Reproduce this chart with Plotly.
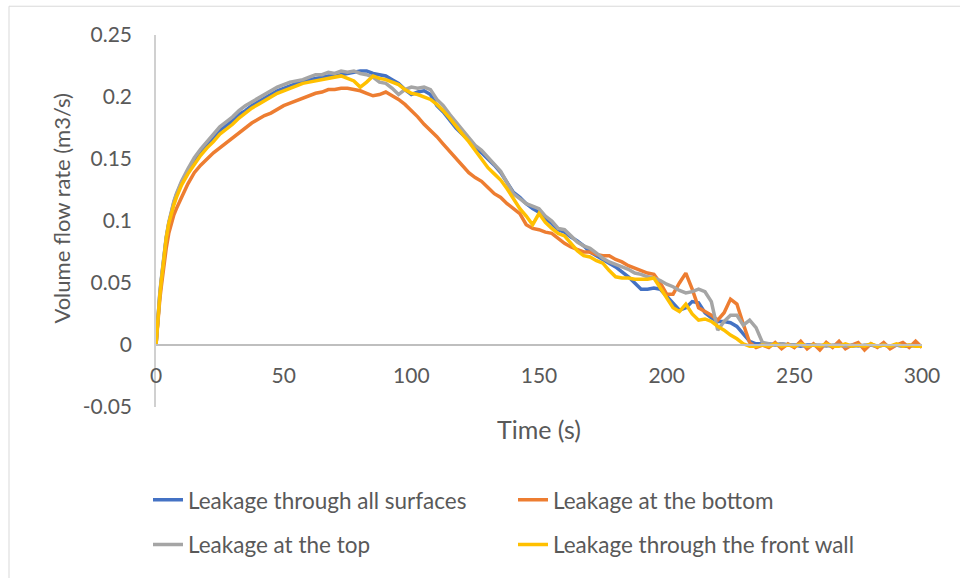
import plotly.graph_objects as go

time_s = [0, 0.5, 1, 1.5, 2, 3, 4, 5, 6, 7, 8, 9,
          10, 12.5, 15, 17.5, 20, 22.5, 25, 27.5, 30, 32.5, 35, 37.5, 40, 42.5, 45, 47.5,
          50, 52.5, 55, 57.5, 60, 62.5, 65, 67.5, 70, 72.5, 75, 77.5, 80, 82.5, 85, 87.5,
          90, 92.5, 95, 97.5, 100, 102.5, 105, 107.5, 110, 112.5, 115, 117.5, 120, 122.5, 125, 127.5,
          130, 132.5, 135, 137.5, 140, 142.5, 145, 147.5, 150, 152.5, 155, 157.5, 160, 162.5, 165, 167.5,
          170, 172.5, 175, 177.5, 180, 182.5, 185, 187.5, 190, 192.5, 195, 197.5, 200, 202.5, 205, 207.5,
          210, 212.5, 215, 217.5, 220, 222.5, 225, 227.5, 230, 232.5, 235, 237.5, 240, 242.5, 245, 247.5,
          250, 252.5, 255, 257.5, 260, 262.5, 265, 267.5, 270, 272.5, 275, 277.5, 280, 282.5, 285, 287.5,
          290, 292.5, 295, 297.5, 300]

all_surfaces = [0, 0.016, 0.030, 0.041, 0.051, 0.070, 0.086, 0.098, 0.107, 0.115, 0.121, 0.126,
                0.131, 0.140, 0.149, 0.156, 0.162, 0.167, 0.173, 0.177, 0.181, 0.186, 0.189, 0.193, 0.196, 0.199, 0.202, 0.205,
                0.207, 0.209, 0.211, 0.212, 0.214, 0.215, 0.216, 0.217, 0.217, 0.218, 0.219, 0.220, 0.221, 0.221, 0.219, 0.218,
                0.217, 0.214, 0.211, 0.206, 0.202, 0.204, 0.205, 0.202, 0.193, 0.188, 0.181, 0.175, 0.170, 0.165, 0.159, 0.155,
                0.150, 0.145, 0.139, 0.131, 0.123, 0.119, 0.114, 0.110, 0.107, 0.102, 0.098, 0.093, 0.091, 0.087, 0.084, 0.080,
                0.075, 0.072, 0.069, 0.066, 0.063, 0.059, 0.055, 0.050, 0.045, 0.045, 0.046, 0.045, 0.039, 0.034, 0.028, 0.030,
                0.035, 0.034, 0.026, 0.022, 0.019, 0.019, 0.018, 0.015, 0.009, 0.003, 0.001, 0.001, 0.001, 0.000, 0.001, 0.000,
                0.000, -0.001, 0.000, 0.000, -0.001, 0.000, -0.001, 0.000, -0.001, -0.001, 0.000, -0.001, 0.000, -0.001, 0.000, -0.001,
                0.000, -0.001, -0.001, 0.000, -0.001]

bottom = [0, 0.014, 0.027, 0.037, 0.046, 0.064, 0.078, 0.090, 0.099, 0.105, 0.110, 0.115,
          0.119, 0.130, 0.139, 0.145, 0.150, 0.155, 0.159, 0.163, 0.167, 0.171, 0.175, 0.179, 0.182, 0.185, 0.187, 0.190,
          0.193, 0.195, 0.197, 0.199, 0.201, 0.203, 0.204, 0.206, 0.206, 0.207, 0.207, 0.206, 0.205, 0.203, 0.201, 0.202,
          0.204, 0.201, 0.198, 0.194, 0.189, 0.184, 0.178, 0.173, 0.168, 0.162, 0.156, 0.150, 0.145, 0.139, 0.135, 0.132,
          0.127, 0.122, 0.119, 0.114, 0.110, 0.106, 0.097, 0.094, 0.093, 0.091, 0.090, 0.086, 0.082, 0.079, 0.077, 0.075,
          0.075, 0.073, 0.072, 0.072, 0.069, 0.067, 0.064, 0.062, 0.060, 0.058, 0.057, 0.050, 0.041, 0.041, 0.050, 0.058,
          0.045, 0.030, 0.027, 0.024, 0.020, 0.026, 0.037, 0.033, 0.017, 0.002, -0.002, 0.000, -0.002, 0.002, -0.003, 0.001,
          -0.002, 0.003, -0.003, 0.001, -0.004, 0.002, -0.002, 0.003, -0.003, 0.000, 0.002, -0.004, 0.001, -0.002, 0.002, -0.003,
          0.000, 0.002, -0.002, 0.003, -0.002]

top = [0, 0.016, 0.031, 0.042, 0.052, 0.071, 0.087, 0.099, 0.108, 0.116, 0.122, 0.127,
       0.132, 0.142, 0.151, 0.158, 0.164, 0.170, 0.176, 0.180, 0.184, 0.189, 0.193, 0.196, 0.199, 0.202, 0.205, 0.208,
       0.210, 0.212, 0.213, 0.214, 0.216, 0.218, 0.218, 0.220, 0.219, 0.221, 0.220, 0.221, 0.219, 0.218, 0.216, 0.212,
       0.211, 0.207, 0.202, 0.206, 0.208, 0.207, 0.208, 0.206, 0.198, 0.193, 0.186, 0.180, 0.173, 0.167, 0.161, 0.157,
       0.151, 0.146, 0.140, 0.131, 0.122, 0.118, 0.114, 0.112, 0.110, 0.104, 0.100, 0.094, 0.093, 0.088, 0.083, 0.080,
       0.078, 0.074, 0.070, 0.067, 0.065, 0.063, 0.061, 0.058, 0.057, 0.055, 0.054, 0.052, 0.049, 0.047, 0.044, 0.042,
       0.043, 0.045, 0.043, 0.035, 0.012, 0.019, 0.024, 0.024, 0.016, 0.020, 0.014, 0.002, 0.001, 0.000, 0.001, 0.000,
       0.000, 0.000, -0.001, 0.000, 0.000, -0.001, 0.000, 0.000, -0.001, 0.000, -0.001, 0.000, 0.000, -0.001, 0.000, -0.001,
       0.000, -0.001, 0.000, -0.001, -0.001]

front_wall = [0, 0.016, 0.030, 0.040, 0.050, 0.071, 0.086, 0.098, 0.106, 0.113, 0.119, 0.124,
              0.129, 0.138, 0.146, 0.153, 0.159, 0.164, 0.170, 0.174, 0.178, 0.183, 0.187, 0.191, 0.194, 0.197, 0.200, 0.203,
              0.205, 0.207, 0.209, 0.211, 0.212, 0.213, 0.214, 0.215, 0.216, 0.217, 0.215, 0.213, 0.208, 0.212, 0.217, 0.215,
              0.214, 0.212, 0.210, 0.206, 0.203, 0.202, 0.200, 0.198, 0.194, 0.189, 0.183, 0.176, 0.170, 0.164, 0.157, 0.149,
              0.143, 0.138, 0.133, 0.126, 0.118, 0.110, 0.104, 0.097, 0.106, 0.099, 0.094, 0.090, 0.088, 0.082, 0.076, 0.072,
              0.071, 0.068, 0.066, 0.060, 0.055, 0.054, 0.054, 0.053, 0.053, 0.053, 0.054, 0.046, 0.038, 0.030, 0.027, 0.033,
              0.025, 0.020, 0.021, 0.019, 0.015, 0.012, 0.008, 0.005, 0.001, -0.001, -0.001, 0.000, -0.001, 0.001, -0.001, 0.000,
              -0.001, 0.001, -0.001, 0.000, -0.001, 0.001, -0.001, -0.001, 0.001, -0.001, 0.000, -0.001, 0.001, -0.001, 0.000, -0.001,
              0.001, -0.001, 0.000, -0.001, -0.001]

series_names = ["Leakage through all surfaces", "Leakage at the bottom",
                "Leakage at the top", "Leakage through the front wall"]
series_values = [all_surfaces, bottom, top, front_wall]
series_colors = ["#4472C4", "#ED7D31", "#A5A5A5", "#FFC000"]
series_legend = ["legend", "legend", "legend2", "legend2"]

x_tickvals = [0, 50, 100, 150, 200, 250, 300]
y_tickvals = [-0.05, 0, 0.05, 0.1, 0.15, 0.2, 0.25]
y_ticktext = ["-0.05", "0", "0.05", "0.1", "0.15", "0.2", "0.25"]

FONT = "Lato"
TXT = "#595959"

fig = go.Figure()
for name, vals, col, lg in zip(series_names, series_values, series_colors, series_legend):
    fig.add_trace(go.Scatter(x=time_s, y=vals, mode="lines", name=name,
                             line=dict(color=col, width=3.5), legend=lg))

L, R, T, B = 156, 38, 35, 168
PW, PH = 960 - L - R, 578 - T - B

def px_x(p):
    return (p - L) / PW

def px_y(p):
    return (578 - B - p) / PH

legend_common = dict(orientation="h", xanchor="left", yanchor="middle",
                     entrywidth=320, entrywidthmode="pixels",
                     font=dict(size=22.5, color=TXT), bgcolor="rgba(0,0,0,0)")

fig.update_layout(
    width=960, height=578,
    margin=dict(l=L, r=R, t=T, b=B),
    paper_bgcolor="white", plot_bgcolor="white",
    font=dict(family=FONT, color=TXT, size=21),
    showlegend=True,
    legend=dict(x=px_x(148), y=px_y(504), **legend_common),
    legend2=dict(x=px_x(148), y=px_y(549), **legend_common),
    xaxis=dict(range=[0, 300], tickvals=x_tickvals, showgrid=False, zeroline=False,
               showline=True, linecolor="#BFBFBF", linewidth=1.5, ticks="",
               anchor="free", position=px_y(348), tickfont=dict(size=21, color=TXT),
               ticklabelstandoff=12),
    yaxis=dict(range=[-0.05, 0.25], tickvals=y_tickvals, ticktext=y_ticktext, showgrid=False,
               zeroline=False, showline=True, linecolor="#D0D0D0", linewidth=1.5, ticks="",
               tickfont=dict(size=21, color=TXT), ticklabelstandoff=18),
    annotations=[
        dict(text="Time (s)", xref="paper", yref="paper", x=px_x(539), y=px_y(432),
             xanchor="center", yanchor="middle", showarrow=False, font=dict(size=25, color=TXT)),
        dict(text="Volume flow rate (m3/s)", xref="paper", yref="paper", x=px_x(62), y=px_y(210),
             xanchor="center", yanchor="middle", textangle=-90, showarrow=False,
             font=dict(size=22, color=TXT)),
    ],
    shapes=[
        dict(type="line", xref="paper", yref="paper", x0=px_x(9), x1=px_x(9), y0=px_y(6), y1=px_y(600),
             line=dict(color="#D9D9D9", width=1)),
        dict(type="line", xref="paper", yref="paper", x0=px_x(9), x1=px_x(980), y0=px_y(6), y1=px_y(6),
             line=dict(color="#D9D9D9", width=1)),
    ],
)

fig.write_html("out.html")
